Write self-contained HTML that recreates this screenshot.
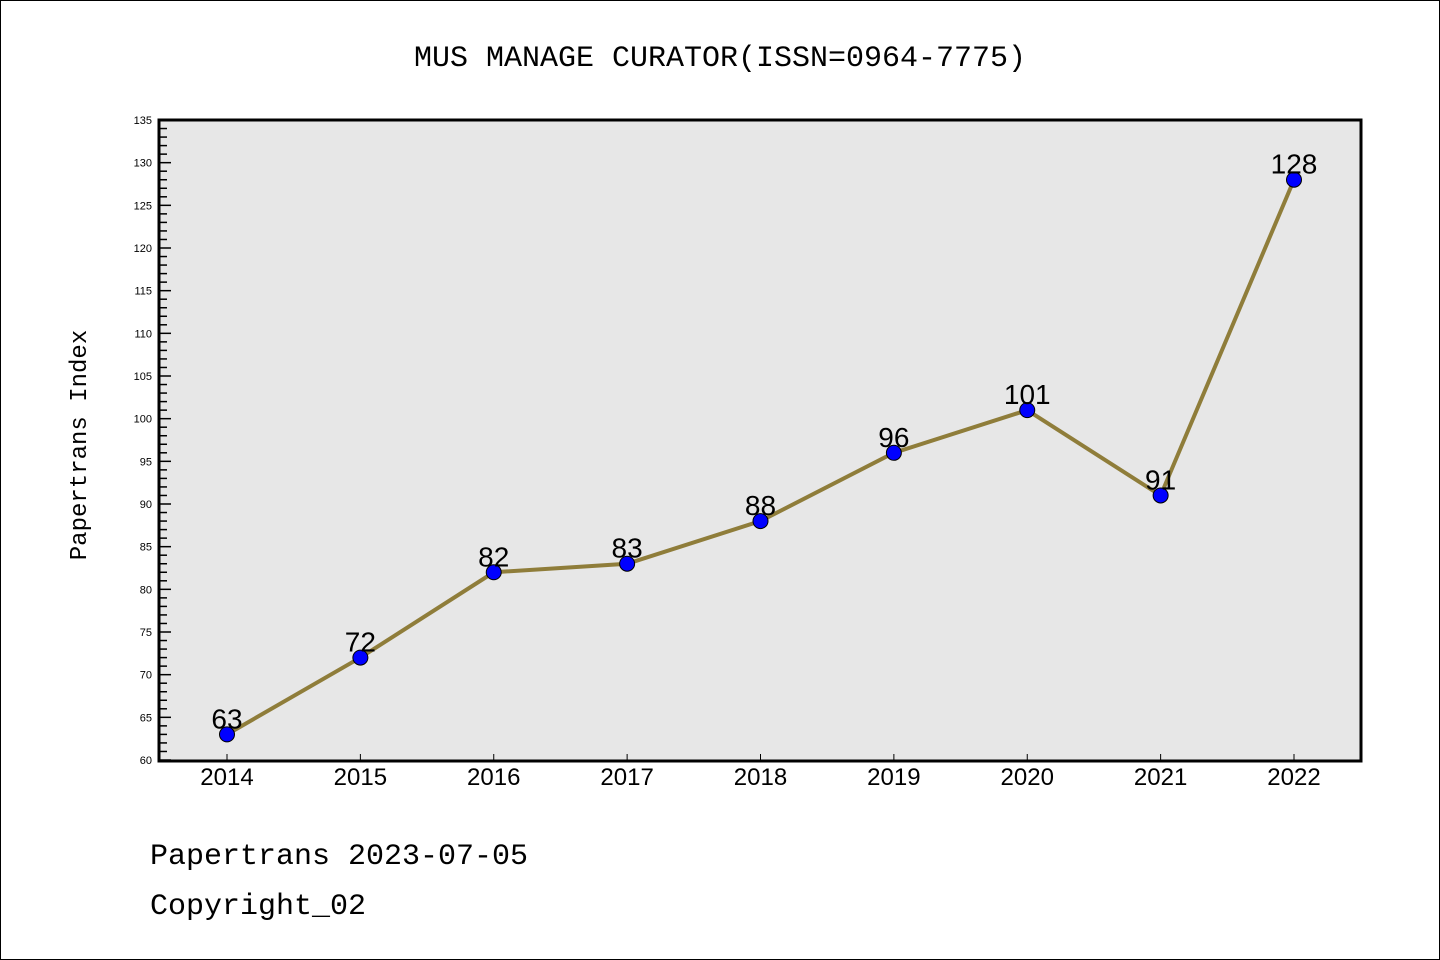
<!DOCTYPE html>
<html><head><meta charset="utf-8"><style>
html,body{margin:0;padding:0;background:#fff;}
svg{display:block;font-family:"Liberation Mono","DejaVu Sans Mono",monospace;}
</style></head><body>
<svg width="1440" height="960" viewBox="0 0 1440 960" xmlns="http://www.w3.org/2000/svg">
<rect x="0.5" y="0.5" width="1439" height="959" fill="#fff" stroke="#000"/>
<text x="720" y="66" text-anchor="middle" font-size="30">MUS MANAGE CURATOR(ISSN=0964-7775)</text>
<rect x="159" y="120" width="1202" height="641" fill="#e7e7e7"/>
<g id="yticks"></g>
<g id="xticks"></g>
<rect x="159" y="120" width="1202" height="641" fill="none" stroke="#000" stroke-width="3"/>
<polyline id="line" fill="none" stroke="#8f7d3a" stroke-width="4"/>
<g id="points"></g>
<text x="86" y="445" transform="rotate(-90 86 445)" text-anchor="middle" font-size="24">Papertrans Index</text>
<text x="150" y="864" font-size="30">Papertrans 2023-07-05</text>
<text x="150" y="914" font-size="30">Copyright_02</text>
</svg>
<script>
const categories=["2014","2015","2016","2017","2018","2019","2020","2021","2022"];
const values=[63,72,82,83,88,96,101,91,128];
const yTicks=[60,65,70,75,80,85,90,95,100,105,110,115,120,125,130,135];
const NS="http://www.w3.org/2000/svg";
const yMin=60,yMax=135,yTop=120,yBot=760;
function yS(v){return yBot-(v-yMin)/(yMax-yMin)*(yBot-yTop);}
function xS(i){return 227+i*(1294-227)/(categories.length-1);}
function mk(t,a,p){const e=document.createElementNS(NS,t);for(const k in a)e.setAttribute(k,a[k]);p.appendChild(e);return e;}
const yg=document.getElementById('yticks');
for(let v=yMin;v<=yMax;v++){
 const major=yTicks.includes(v);
 const l=mk('line',{x1:159,x2:159+(major?12:8),y1:yS(v),y2:yS(v),stroke:'#000','stroke-width':1.5},yg);
 
 
}
yTicks.forEach(v=>{
 const t=mk('text',{x:152,y:yS(v)+4,'text-anchor':'end','font-size':11,'font-family':'Liberation Sans, sans-serif'},yg);
 t.textContent=v;
 
 
});
const xg=document.getElementById('xticks');
categories.forEach((c,i)=>{
 const l=mk('line',{x1:xS(i),x2:xS(i),y1:760,y2:754,stroke:'#000','stroke-width':1},xg);
 
 
 const t=mk('text',{x:xS(i),y:785,'text-anchor':'middle','font-size':24,'font-family':'Liberation Sans, sans-serif'},xg);
 t.textContent=c;
 
 
});
document.getElementById('line').setAttribute('points',values.map((v,i)=>xS(i)+','+yS(v)).join(' '));
const pg=document.getElementById('points');
values.forEach((v,i)=>{
 const c=mk('circle',{cx:xS(i),cy:yS(v),r:7.5,fill:'#0000ff',stroke:'#000','stroke-width':1},pg);
 
 
 const t=mk('text',{x:xS(i),y:yS(v)-6,'text-anchor':'middle','font-size':28,'font-family':'Liberation Sans, sans-serif'},pg);
 t.textContent=v;
 
 
});
</script>
</body></html>
